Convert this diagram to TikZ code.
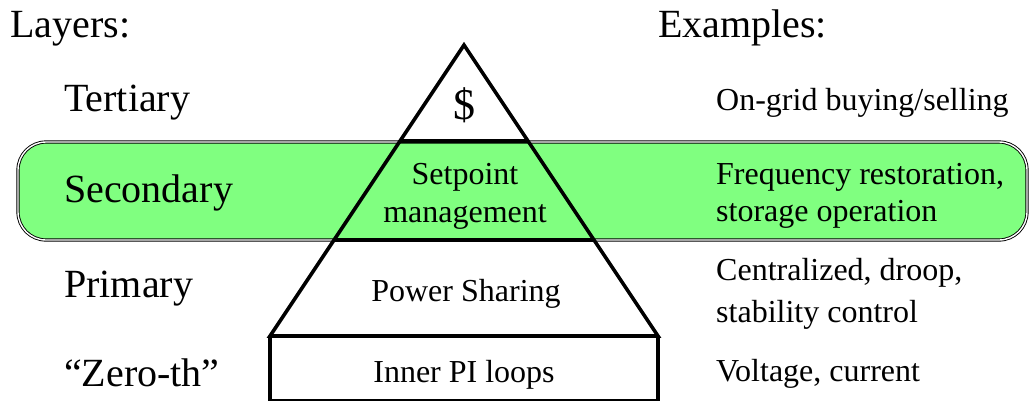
\documentclass[tikz,border=0pt]{standalone}
\usepackage{fontspec}
\setmainfont{Liberation Serif}
\definecolor{bandgreen}{HTML}{80FF80}
\begin{document}
\begin{tikzpicture}[x=1pt,y=-1pt,
  big/.style={font=\fontsize{40}{46}\selectfont, inner sep=0pt, anchor=base west},
  small/.style={font=\fontsize{32}{37}\selectfont, inner sep=0pt, anchor=base west},
  mid/.style={font=\fontsize{32}{37}\selectfont, inner sep=0pt, anchor=base},
  pyr/.style={line width=3.6pt, line join=miter},
  band/.style={fill=bandgreen, draw=black, double=white, double distance=1.4pt, line width=0.9pt, rounded corners=28pt}]
\useasboundingbox (0,0) rectangle (1029,400);
% green band
\draw[band] (18,142) rectangle (1027,240);
% pyramid
\coordinate (apex) at (464,45);
\coordinate (l1) at (400,141); \coordinate (r1) at (528,141);
\coordinate (l2) at (334,240); \coordinate (r2) at (594,240);
\coordinate (l3) at (270,336); \coordinate (r3) at (658,336);
\coordinate (l4) at (270,400.5); \coordinate (r4) at (658,400.5);
\draw[pyr] (l3) -- (apex) -- (r3) -- cycle;
\draw[pyr] (l1) -- (r1);
\draw[pyr] (l2) -- (r2);
\draw[pyr] (l3) -- (l4) -- (r4) -- (r3);
% headings
\node[big] (layers) at (10,37) {Layers:};
\node[big] (examples) at (658,37) {Examples:};
% layer names
\node[big] (tert) at (64,111) {Tertiary};
\node[big] (sec) at (64,202) {Secondary};
\node[big] (prim) at (64,297) {Primary};
\node[big] (zero) at (64,386) {“Zero-th”};
% pyramid texts
\node[font=\fontsize{44}{50}\selectfont, inner sep=0pt, anchor=base] (dollar) at (464,119) {\$};
\node[mid] (setp1) at (465,184) {Setpoint};
\node[mid] (setp2) at (465,222) {management};
\node[mid] (power) at (466,301) {Power Sharing};
\node[mid] (inner) at (464,382) {Inner PI loops};
% examples
\node[small] (ex1) at (716,110) {On-grid buying/selling};
\node[small] (ex2a) at (716,184) {Frequency restoration,};
\node[small] (ex2b) at (716,221) {storage operation};
\node[small] (ex3a) at (716,280) {Centralized, droop,};
\node[small] (ex3b) at (716,322) {stability control};
\node[small] (ex4) at (716,381) {Voltage, current};
\end{tikzpicture}
\end{document}
